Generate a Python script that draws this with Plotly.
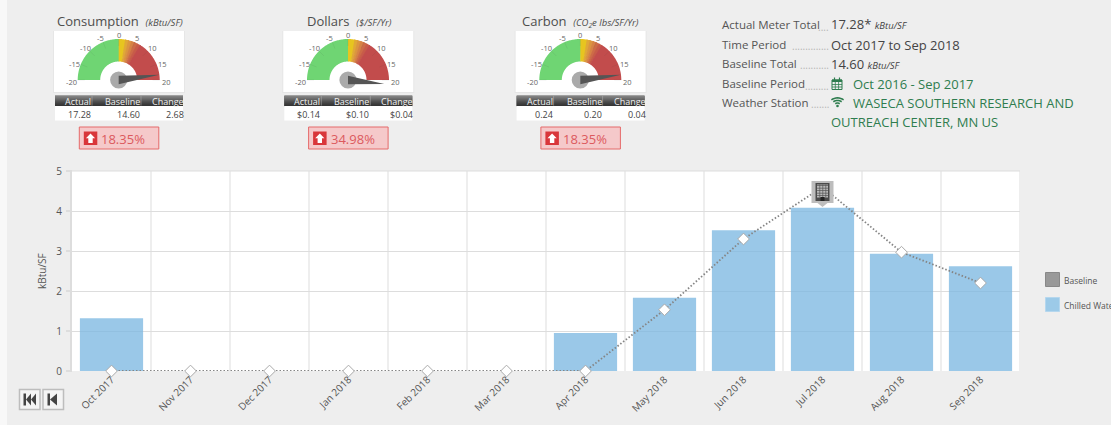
import math
import plotly.graph_objects as go

W, H = 1111, 425
months = ["Oct 2017","Nov 2017","Dec 2017","Jan 2018","Feb 2018","Mar 2018","Apr 2018","May 2018","Jun 2018","Jul 2018","Aug 2018","Sep 2018"]
chilled_water = [1.32,0,0,0,0,0,0.95,1.83,3.52,4.08,2.93,2.62]
baseline = [0,0,0,0,0,0,0,1.53,3.3,4.6,2.97,2.2]
y_ticks = [0,1,2,3,4,5]
gauge_titles = ["Consumption","Dollars","Carbon"]
gauge_units = ["(kBtu/SF)","($/SF/Yr)","(CO<sub>2</sub>e lbs/SF/Yr)"]
gauge_needles = [18.35, 21.4, 18.35]
gauge_actual = ["17.28","$0.14","0.24"]
gauge_baseline = ["14.60","$0.10","0.20"]
gauge_change = ["2.68","$0.04","0.04"]
gauge_pct = ["18.35%","34.98%","18.35%"]
gauge_scale = [-20,-15,-10,-5,0,5,10,15,20]
info_labels = ["Actual Meter Total","Time Period","Baseline Total","Baseline Period","Weather Station"]
info_dots = ["....","..............","...........",".........","......."]
band_stops = [(-20,0,"#6fd573"),(0,2,"#e7c51f"),(2,3,"#e0a837"),(3,4,"#db9540"),(4,5,"#d68245"),(5,6,"#cd6b47"),(6,7,"#c75b49"),(7,20,"#c24c4c")]

FONT = "Open Sans"
px = lambda x: x / W
py = lambda y: 1 - y / H
shapes, notes = [], []

def path(points, fill, line=None, lw=0, layer="below"):
    d = "M " + " L ".join(f"{px(x):.5f},{py(y):.5f}" for x, y in points) + " Z"
    shapes.append(dict(type="path", xref="paper", yref="paper", path=d, fillcolor=fill,
                       line=dict(color=line or fill, width=lw), layer=layer))

def rect(x0, y0, x1, y1, fill, line=None, lw=0, layer="below"):
    shapes.append(dict(type="rect", xref="paper", yref="paper", x0=px(x0), x1=px(x1), y0=py(y1), y1=py(y0),
                       fillcolor=fill, line=dict(color=line or fill, width=lw), layer=layer))

def circle(cx, cy, r, fill, layer="below"):
    shapes.append(dict(type="circle", xref="paper", yref="paper", x0=px(cx-r), x1=px(cx+r), y0=py(cy+r), y1=py(cy-r),
                       fillcolor=fill, line=dict(width=0), layer=layer))

def seg(x0, y0, x1, y1, color, lw=1, dash="solid"):
    shapes.append(dict(type="line", xref="paper", yref="paper", x0=px(x0), x1=px(x1), y0=py(y0), y1=py(y1),
                       line=dict(color=color, width=lw, dash=dash), layer="below"))

def text(x, y, s, size=10, color="#555555", anchor="left", angle=0):
    notes.append(dict(xref="paper", yref="paper", x=px(x), y=py(y), text=s, showarrow=False,
                      xanchor=anchor, yanchor="middle", align=anchor, textangle=angle, borderpad=0, borderwidth=0,
                      font=dict(family=FONT, size=size, color=color)))

def gauge(cx, i, title_cx):
    card = cx - 64.7
    rect(card-1, 31, card+131, 93, "#e6e6e6")
    rect(card, 31, card+130, 92, "#ffffff")
    cy, R, r0 = 80, 41, 18.5
    ang = lambda v: math.pi * (20 - v) / 40
    for lo, hi, color in band_stops:
        steps = max(3, int((hi - lo) * 4))
        top = min(hi + 0.3, 20)
        vals = [lo + (top - lo) * k / steps for k in range(steps + 1)]
        pts = [(cx + R*math.cos(ang(v)), cy - R*math.sin(ang(v))) for v in vals]
        pts += [(cx + r0*math.cos(ang(v)), cy - r0*math.sin(ang(v))) for v in reversed(vals)]
        path(pts, color)
    for v in gauge_scale:
        a = ang(v)
        seg(cx+R*math.cos(a), cy-R*math.sin(a), cx+(R-7)*math.cos(a), cy-(R-7)*math.sin(a), "rgba(60,60,60,0.14)", 0.6)
    for v in gauge_scale:
        a = ang(v)
        text(cx + 47.5*math.cos(a), cy + 2 - 47.5*math.sin(a), str(v), 7.5, "#666666", "center")
    circle(cx, cy, 8.6, "#aaaaaa")
    a = ang(gauge_needles[i])
    L = 36.5 if gauge_needles[i] > 20 else 41
    tx, ty = cx + L*math.cos(a), cy - L*math.sin(a)
    path([(cx, cy-4.3), (tx, ty), (cx, cy+4.3)], "#555555")
    x0, x1 = card+1, card+129
    rect(x0, 95.5, x1, 106, "#555555")
    shades = ["#808080","#787878","#6e6e6e","#646464","#5a5a5a","#505050","#484848","#404040","#3a3a3a","#343434"]
    for k, c in enumerate(shades):
        rect(x0, 96 + k, x1, 97.3 + k, c)
    rect(x0, 106, x1, 120.5, "#ffffff")
    for cols, vals, col, sz, yy in [((36, 85, 129), ("Actual","Baseline","Change"), "#f0f0f0", 9, 101),
                                    ((36, 85, 129), (gauge_actual[i],gauge_baseline[i],gauge_change[i]), "#444444", 9, 114)]:
        for c, v in zip(cols, vals):
            text(x0 + c, yy, v, sz, col, "right")
    seg(x0+37, 95.5, x0+37, 105.5, "#aaaaaa", 0.6)
    seg(x0+86, 95.5, x0+86, 105.5, "#aaaaaa", 0.6)
    b = cx - 39.4
    rect(b, 127, b+79.5, 149, "#f5c9ca", "#e56a6a", 1)
    rect(b+4.5, 131.5, b+18, 145, "#d9363a")
    ax = b + 11.2
    path([(ax, 133.5),(ax+4.6,138.3),(ax+2.2,138.3),(ax+2.2,143),(ax-2.2,143),(ax-2.2,138.3),(ax-4.6,138.3)], "#ffffff")
    text(b+22, 138.5, gauge_pct[i], 13, "#dc5a5e")
    text(title_cx, 21.5, f"{gauge_titles[i]}  <i><span style='font-size:9.5px'>{gauge_units[i]}</span></i>", 13, "#4d4d4d", "center")

rect(7, 0, W, H, "#eeeeee")
rect(72, 171, 1020, 371, "#ffffff")
gauge(118.7, 0, 120)
gauge(348, 1, 349.5)
gauge(580.3, 2, 580.5)

rows = [24.5, 44.5, 63.5, 83.5, 102.5]
for i, (label, yy) in enumerate(zip(info_labels, rows)):
    text(721.5, yy, label, 11.5, "#555555")
    text(829, yy+2, info_dots[i], 10, "#b5b5b5", "right")
text(831, 24.5, "17.28* <i><span style='font-size:9.5px'>kBtu/SF</span></i>", 13, "#444444")
text(831, 44.5, "Oct 2017 to Sep 2018", 13, "#444444")
text(831, 63.5, "14.60 <i><span style='font-size:9.5px'>kBtu/SF</span></i>", 13, "#444444")
GREEN = "#2f7d4f"
text(852.5, 83.5, "Oct 2016 - Sep 2017", 13, GREEN)
text(852.5, 102.5, "WASECA SOUTHERN RESEARCH AND", 13, GREEN)
text(831, 121.5, "OUTREACH CENTER, MN US", 13, GREEN)
rect(832, 80, 842, 89.5, "rgba(0,0,0,0)", GREEN, 1)
rect(832, 79.5, 842, 82, GREEN)
for gx in (835.3, 838.6):
    seg(gx, 82, gx, 89.5, GREEN, 0.8)
for gy in (84.5, 87):
    seg(832, gy, 842, gy, GREEN, 0.8)
seg(834.5, 77.5, 834.5, 80, GREEN, 1.2); seg(839.5, 77.5, 839.5, 80, GREEN, 1.2)
wx, wy = 837.5, 106
for rad, lw in ((9.5, 1.6), (6.5, 1.6), (3.5, 1.6)):
    d = []
    for k in range(9):
        a = math.radians(50 + k * 10)
        d.append(f"{px(wx+rad*math.cos(a)):.5f},{py(wy-rad*0.85*math.sin(a)):.5f}")
    shapes.append(dict(type="path", xref="paper", yref="paper", path="M " + " L ".join(d),
                       line=dict(color=GREEN, width=lw), layer="below"))
circle(wx, wy, 1.3, GREEN)

rect(1045.5, 272.5, 1059.5, 286.5, "#999999", "#888888", 1)
rect(1045.5, 297.5, 1059.5, 311.5, "#9ccae8", "#b5d7ee", 1)
text(1064, 280, "Baseline", 8.5, "#555555")
text(1064, 305, "Chilled Water", 8.5, "#555555")

for bx0, bx1 in ((19.5, 40), (43, 63.5)):
    rect(bx0, 389.5, bx1, 409.5, "#f4f4f4", "#bdbdbd", 1.5)
DK = "#444444"
rect(23.5, 393.5, 26, 405.5, DK)
path([(26,399.5),(31,393.5),(31,405.5)], DK)
path([(31,399.5),(36,393.5),(36,405.5)], DK)
rect(47.5, 393.5, 50, 405.5, DK)
path([(50,399.5),(57,393.5),(57,405.5)], DK)

text(42, 271, "kBtu/SF", 10, "#555555", "center", -90)
for t in y_ticks:
    seg(66, 371 - t*40, 72, 371 - t*40, "#cccccc", 1)

peak = baseline.index(max(baseline))
def icon(x0, x1, y0, y1, color, layer="above"):
    shapes.append(dict(type="rect", xref="x", yref="y", xsizemode="pixel", ysizemode="pixel",
                       xanchor=peak, yanchor=baseline[peak], x0=x0, x1=x1, y0=y0, y1=y1,
                       fillcolor=color, line=dict(width=0), layer=layer))
icon(-11, 11, -16, 6, "#bdbdbd")
icon(-7, 7, -14, 4, "#4a4a4a")
icon(-5.5, 5.5, -10.5, 2.5, "#b9b9b9")
for yy in (-9, -6.5, -4, -1.5, 1):
    icon(-5.5, 5.5, yy, yy+0.7, "#555555")
for xx in (-3, 0, 3):
    icon(xx, xx+0.7, -10.5, 2.5, "#555555")
icon(-2, 2, -14, -10, "#222222")
shapes.append(dict(type="path", xref="x", yref="y", xsizemode="pixel", ysizemode="pixel",
                   xanchor=peak, yanchor=baseline[peak], path="M -5,-16 L 0,-20 L 5,-16 Z",
                   fillcolor="#bdbdbd", line=dict(width=0), layer="above"))

fig = go.Figure()
fig.add_bar(x=list(range(12)), y=chilled_water, width=0.8, name="Chilled Water",
            marker=dict(color="rgba(120,182,224,0.75)", line=dict(width=0)))
fig.add_scatter(x=list(range(12)), y=baseline, mode="lines+markers", name="Baseline",
                line=dict(color="#858585", width=1.8, dash="1.5px,2px"),
                marker=dict(symbol="diamond", size=9, color="#ffffff", line=dict(color="#aaaaaa", width=1)),
                cliponaxis=False)

fig.update_layout(
    width=W, height=H, autosize=False, margin=dict(l=0, r=0, t=0, b=0, autoexpand=False),
    paper_bgcolor="#f8f8f8", plot_bgcolor="#ffffff", showlegend=False,
    font=dict(family=FONT, size=10, color="#555555"),
    shapes=shapes, annotations=notes,
    xaxis=dict(domain=[px(72), px(1020)], range=[-0.5, 11.5], tickmode="array", tickvals=list(range(12)),
               ticktext=months, tickangle=-45, showgrid=False, zeroline=False, showline=False,
               ticks="", tickfont=dict(size=10, color="#555555")),
    yaxis=dict(domain=[py(371), py(171)], range=[0, 5], tickmode="array", tickvals=y_ticks,
               gridcolor="#dddddd", gridwidth=1, zeroline=False, showline=True, linecolor="#dddddd", linewidth=2,
               ticks="outside", ticklen=6, tickcolor="rgba(0,0,0,0)", tickfont=dict(size=10, color="#555555")),
)
for k in range(1, 13):
    fig.add_shape(type="line", xref="x", yref="paper", x0=k-0.5, x1=k-0.5, y0=py(371), y1=py(171),
                  line=dict(color="#dddddd", width=1), layer="below")
fig.add_shape(type="line", xref="paper", yref="paper", x0=px(72), x1=px(1020), y0=py(171), y1=py(171),
              line=dict(color="#dddddd", width=1), layer="below")

fig.write_html("out.html", config=dict(displayModeBar=False),
               post_script="document.body.style.margin='0';document.documentElement.style.overflow='hidden';")
